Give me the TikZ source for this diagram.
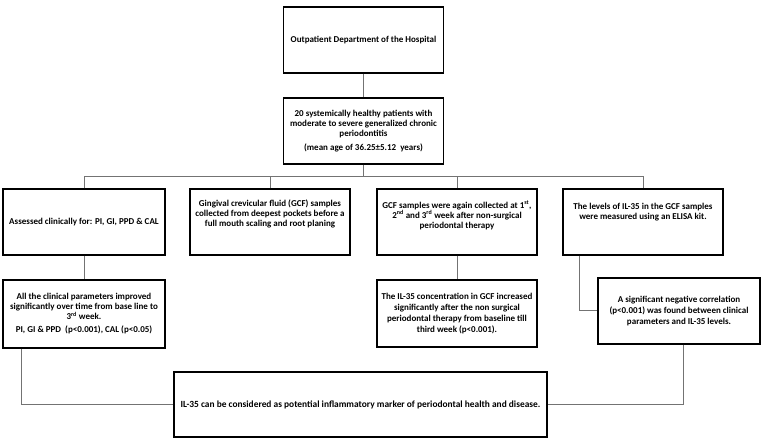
\documentclass[tikz,border=0pt]{standalone}
\usepackage{fontspec}
\setmainfont{Carlito}
\begin{document}
\begin{tikzpicture}[x=1pt,y=-1pt,
  box/.style={draw=black,line width=1.3pt,minimum width=160pt,minimum height=66pt,inner sep=3pt,
    align=center,font=\bfseries\fontsize{9}{10}\selectfont},
  loose/.style={font=\bfseries\fontsize{9}{11}\selectfont},
  txt/.style={align=center,inner sep=0pt,font=\bfseries\fontsize{9}{10}\selectfont},
  link/.style={draw=black!55,line width=1pt}]
\useasboundingbox (0,0) rectangle (766,443);
\node[box] (hosp) at (363.5,40) {Outpatient Department of the Hospital};
\node[box] (pat) at (363.5,131) {20 systemically healthy patients with\\moderate to\ severe generalized chronic\\periodontitis\\[4pt](mean age of 36.25±5.12\ \ years)};
\node[box,minimum width=162pt] (clin) at (84,222) {Assessed clinically for: PI, GI, PPD \& CAL};
\node[box] (gcf) at (270,222) {};
\node[txt] (gcft) at ([yshift=8]gcf.center) {Gingival crevicular fluid (GCF) samples\\collected from deepest pockets before a\\full mouth scaling and root planing};
\node[box] (again) at (457,222) {};
\node[txt] (againt) at ([yshift=7]again.center) {GCF samples were again\ collected at 1\textsuperscript{st},\\2\textsuperscript{nd}\ and\ 3\textsuperscript{rd} week after non-surgical\\periodontal therapy};
\node[box] (elisa) at (643,222) {};
\node[txt] (elisat) at ([yshift=10]elisa.center) {The levels of IL-35\ in the GCF samples\\were measured using an ELISA\ kit.};
\node[box,minimum width=162pt,minimum height=68pt] (impr) at (84,314) {All the clinical parameters improved\\significantly over time from base line to\\3\textsuperscript{rd} week.\\[3pt]PI, GI \& PPD\ \ (p<0.001), CAL (p<0.05)};
\node[box,loose,minimum height=67pt] (conc) at (457,313.5) {The IL-35 concentration in GCF increased\\significantly after the non surgical\\periodontal therapy from baseline till\\third week (p<0.001).};
\node[box,loose,minimum width=162pt] (corr) at (679,311) {A significant negative correlation\\(p<0.001) was found between clinical\\parameters and IL-35\ levels.};
\node[box,minimum width=373pt,minimum height=65pt,font=\bfseries\fontsize{9.4}{11}\selectfont] (concl) at (360.5,404.5) {IL-35 can be considered as potential inflammatory marker of periodontal health and disease.};
\coordinate (bus) at (84,177);
\draw[link] (hosp.south) -- (pat.north);
\draw[link] (pat.south) -- (pat.south |- bus);
\draw[link] (clin.north) -- (clin.north |- bus) -- (elisa.north |- bus) -- (elisa.north);
\draw[link] (gcf.north) -- (gcf.north |- bus);
\draw[link] (again.north) -- (again.north |- bus);
\draw[link] (clin.south) -- (impr.north);
\draw[link] (again.south) -- (conc.north);
\draw[link] ([xshift=-64pt]elisa.south) |- (corr.west);
\draw[link] ([xshift=-63pt]impr.south) |- (concl.west);
\draw[link] ([xshift=4pt]corr.south) |- (concl.east);
\end{tikzpicture}
\end{document}
